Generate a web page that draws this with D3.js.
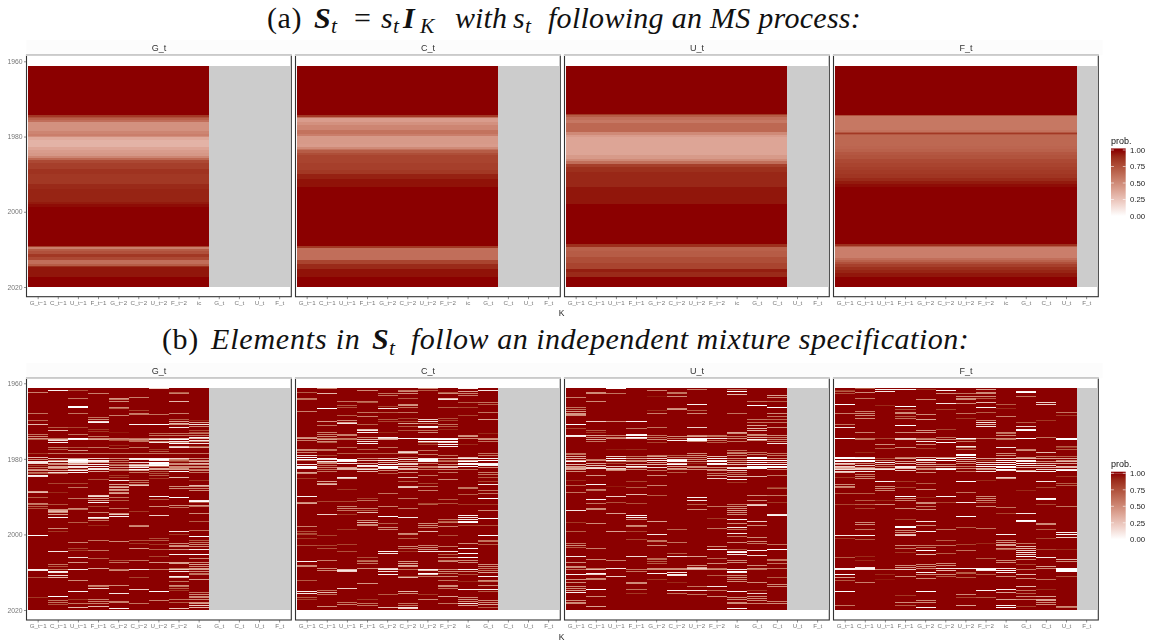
<!DOCTYPE html>
<html><head><meta charset="utf-8">
<script src="https://cdnjs.cloudflare.com/ajax/libs/d3/7.8.5/d3.min.js"></script>
<style>html,body{margin:0;padding:0;background:#fff}svg{display:block}text{font-family:"Liberation Sans",Arial,sans-serif}</style>
</head><body><svg id="c" width="1153" height="644"></svg>
<script>
const xLabels=["G_t−1","C_t−1","U_t−1","F_t−1","G_t−2","C_t−2","U_t−2","F_t−2","ic","G_t","C_t","U_t","F_t"];
const panelNames=["G_t","C_t","U_t","F_t"];
const predictorCounts=[9,10,11,12];
const yearTicks=[1960,1980,2000,2020];
const legendTicks=[1,.75,.5,.25,0];
// (a) posterior probability by period: [from year, prob] steps
const msG=[[1961.25,1],[1974.3,.85],[1974.7,.75],[1975.2,.68],[1975.7,.62],[1976.25,.47],[1977.9,.47],[1978.5,.52],[1979.2,.55],[1979.8,.48],[1980.25,.36],[1981,.32],[1982.2,.32],[1982.75,.38],[1983.5,.42],[1984.4,.44],[1985.3,.52],[1985.6,.65],[1986.3,.78],[1987,.82],[1988.5,.87],[1990,.85],[1992.5,.9],[1994,.92],[1996,.92],[1997.5,.95],[1997.9,.98],[1998.75,1],[2009,.82],[2009.4,.55],[2009.8,.7],[2010.5,.75],[2011.2,.85],[2012,.78],[2012.7,.62],[2013.8,.7],[2014.3,.88],[2014.75,.96],[2017.4,1]];
const msC=[[1961.25,1],[1974.3,.85],[1974.7,.6],[1975.2,.42],[1976.1,.47],[1977,.52],[1978.3,.6],[1979.2,.55],[1979.9,.43],[1982,.42],[1982.8,.5],[1983.3,.6],[1983.65,.7],[1984.3,.76],[1985,.8],[1987,.82],[1989,.85],[1989.9,.93],[1991.2,.97],[1993.4,1],[2009,.85],[2009.6,.62],[2012.5,.62],[2012.8,.8],[2013.9,.9],[2015.2,.97],[2017.4,1]];
const msU=[[1961.25,1],[1973.9,.85],[1974.3,.7],[1974.8,.62],[1975.65,.58],[1976.5,.65],[1978.3,.65],[1978.8,.5],[1979.5,.42],[1980.1,.38],[1984,.38],[1985,.43],[1986,.5],[1986.6,.62],[1987.2,.82],[1988,.88],[1989.4,.91],[1993.4,.96],[1997.9,1],[2008.7,.88],[2009.4,.68],[2010.5,.7],[2012.1,.76],[2013.5,.8],[2015.2,.94],[2016.1,.9],[2017.4,1]];
const msF=[[1961.25,1],[1974.3,.75],[1974.6,.58],[1978.3,.6],[1978.8,.72],[1979,.85],[1979.3,.72],[1979.6,.65],[1982.5,.66],[1983.2,.68],[1984,.72],[1985,.74],[1986,.78],[1987,.8],[1988,.82],[1989,.84],[1990,.86],[1991,.9],[1991.7,.95],[1992.5,.98],[1993.4,1],[2008.7,.88],[2009,.7],[2009.4,.55],[2011.8,.55],[2012.2,.62],[2012.8,.68],[2013.4,.75],[2014,.82],[2014.6,.88],[2015.4,.92],[2016.2,.96],[2017.4,1]];
const msProfiles=[msG,msC,msU,msF];
// (b) stripes per column: flat pairs of years after 1960, prob (all other periods are ~1)
const imG=[
[2.4,.55,7.9,.6,9.8,.65,10.8,.3,13.6,.6,14,.5,14.5,.45,15,.7,18.5,.85,19.7,.3,20.1,.5,20.6,.1,20.9,.1,21.3,.15,21.8,.8,22.3,.6,22.7,.5,23,.45,23.5,.6,23.9,.7,24.5,.05,24.6,.1,28.7,.4,29,.3,30.2,.7,31.8,.55,32.1,.6,32.5,.7,33.1,.75,40.4,0,49.2,.05,49.5,.1,51.4,.75,56.6,.85],
[1.9,.05,11.6,.7,12.4,.3,14.5,.6,14.9,.3,15.2,.15,15.6,.05,17.1,.6,17.5,.7,18.7,.6,19.8,.3,20.3,.5,20.7,.05,21.2,.45,21.5,.5,21.9,.4,22.2,.35,22.6,.5,23.1,.4,23.5,.15,23.8,.6,26.5,.8,28.9,.9,32.2,.75,33.3,.5,33.6,.4,33.9,.3,34.3,.5,34.7,.4,35.5,.05,38.5,.5,39.3,.85,44.5,.1,48,.6,48.4,.75,49.3,.6,49.7,.05,50.1,.1,50.8,.15,51.5,.3,56.3,0,57.4,.6,58,.6,58.5,.75],
[1.9,.75,4,.6,6.2,0,6.3,0,8,.6,11.6,.8,13.6,.6,14.6,0,14.8,.05,17.1,.75,17.7,.4,17.9,.45,18.7,.6,19.8,.4,20.1,.05,20.4,0,20.6,.05,21,.1,21.3,.4,21.6,.2,22,.1,22.4,.1,22.7,.5,23.1,.05,23.5,.05,26.5,.8,27.6,.6,30.4,.6,33,.5,33.3,.6,36.9,.7,42,.55,43.8,.8,44.3,.85,46,.15,47.5,.45,49.4,.1,52.1,.5,55,.05,57.2,.85,58.2,.6,59.3,.3],
[2.8,.55,9,.6,9.5,.5,10,.15,10.3,.05,12.3,.85,12.7,.85,14.1,.6,14.5,.5,15,.4,17.1,.6,18.7,.6,19.8,.2,20.3,.05,20.6,.1,21,.4,21.5,.05,22.1,.05,22.6,.1,22.9,.1,23.3,.4,25.4,.75,29.6,.25,30,.15,30.4,.4,30.9,.4,31.6,.05,32.6,.8,34.2,.55,35.4,.05,35.9,.3,36.3,.6,37.7,.9,41.6,.6,44.2,.6,46.3,.7,49.1,.4,53.4,.5,53.9,.6,54.2,.2,57.3,.55,57.8,.55,58.2,.55,59,.3],
[3.9,.45,4.4,.6,4.8,.5,6.3,.5,6.7,.7,8.4,.55,12.9,.95,14.5,.5,14.8,.55,15.2,.7,16.4,.9,17.3,.75,18.7,.6,19.8,.5,20.4,.6,21,.6,21.4,.7,21.8,.5,22.2,.45,22.7,.5,23.1,.6,24.3,.85,24.8,.8,25.7,.1,26.8,.4,27.3,.5,27.6,.35,28.1,.4,28.4,.5,28.9,.5,29.2,.4,30.1,.6,31,.7,33,.6,34.4,.5,34.7,.2,35.2,.05,41.8,.5,46.8,.75,47.3,.6,49.2,.6,49.5,.5,53.4,.5,55.6,.1,57.7,.55,58,.55,59.6,.05],
[3.8,.55,7.1,.8,7.9,.55,8.2,.6,10.9,.05,14.5,.6,14.8,.45,15.2,.6,15.5,.6,17.1,.6,18.7,.6,19.8,.05,20.1,.1,20.9,.15,21.4,.4,21.7,.1,22.1,.45,22.4,.05,22.8,.05,23.1,.4,23.5,.6,25.8,.6,26.2,.6,26.7,.5,27,.25,33.8,.85,37.7,.55,38,.5,41.5,.75,42.5,.85,43.8,.45,46.8,.6,49.2,.05,49.4,.1,51.3,.8,54.5,.2,58.3,.6],
[1.5,.2,8.3,.6,10.8,0,13.2,.65,13.8,.6,14.5,.4,14.9,.15,15.3,.5,15.6,.1,17.6,.85,18,.7,18.7,.6,19.8,.05,20.1,0,20.5,.1,20.9,0,21.2,0,21.4,.05,21.8,0,22.1,.6,22.6,.35,22.9,.35,23.3,.7,23.8,.75,24.3,.7,25.1,.85,29.9,.05,30.7,.7,32.6,.5,35,.2,41,.75,41.5,.7,42.7,.85,44,.7,45.9,.8,47.5,.45,49.2,.6,55,0,57.5,.55],
[2.4,.7,2.8,.55,4.8,.3,7.9,.55,9.7,.7,10.2,.4,10.6,.3,11,.5,11.6,.1,13.2,.6,13.7,.6,14.5,.3,14.9,0,15.3,.1,15.7,.55,16,0,16.6,.3,16.9,.1,18.5,.6,19.8,.2,20.1,.5,20.5,.6,20.8,.8,21.2,.5,21.5,.5,21.9,.5,22.3,.5,22.6,.5,22.9,.4,23.3,0,24.8,.3,27.3,.5,27.8,.5,30.3,0,32.4,.5,32.8,.6,39.3,.1,39.9,.85,42.3,.5,42.8,.5,43.3,.45,43.9,.45,45.4,.05,47.5,.4,47.8,.4,49,.6,49.3,.2,49.7,.1,51.2,.05,51.5,.3,52.5,.6,53.4,.5,53.9,.6,54.3,.7,54.7,.85,57.3,.6,57.9,.7,59.5,.3,59.7,.25],
[9.8,.9,10.4,.4,10.9,.1,11.5,.5,12.5,.75,12.9,.75,13.4,.6,13.9,.6,14.4,.05,14.7,.3,15.1,.1,15.4,.5,15.9,.1,16.6,.7,17.1,.4,18.7,.6,19.8,.5,20.3,.5,20.7,.4,21.2,.3,21.4,.5,21.9,.5,22.2,.5,22.7,.6,23.1,.5,23.6,.6,25.6,.85,27,.3,27.3,.5,27.9,.55,28.4,.5,31,.05,31.2,0,31.6,.7,32.3,.45,32.7,.6,34.5,.5,36.6,.7,39,.6,40.5,0,41.5,.7,42.2,.6,42.7,.5,43.2,.5,44,.1,45.2,0,46.4,.5,47.5,.5,48,.4,48.5,.5,48.9,.4,49.4,.4,49.9,.5,50.3,.6,50.6,.6,51.9,.4,55.3,.6,55.8,.5,56.3,.5,56.8,.5,57.3,.5,57.9,.5,58.4,.4,58.9,.2,59.4,.3]];
const imC=[
[2.5,.7,4,.6,4.4,.6,7.5,.55,14.4,.5,14.7,.45,15.1,.55,17.5,.5,17.8,.55,18.2,.55,19.2,.15,19.6,0,20.1,0,20.5,.6,21.5,.1,21.9,0,22.2,0,22.6,.05,23.5,.4,23.8,.5,25.1,.85,29.9,.05,31.6,.5,31.9,.4,37.9,.55,39.3,.75,39.7,.75,40.1,.8,41,.85,42.9,.75,47.1,.05,48.2,.5,48.5,.5,52.1,.7,55,.05,55.6,.1,56.8,.7,57.1,.8],
[1.4,.5,2.6,.3,6.6,0,10.1,.45,11.1,.6,13.1,.55,13.5,.55,14,.5,14.5,.6,14.8,.4,15.3,.5,15.6,.7,17.5,.6,17.9,.6,19.1,.8,19.8,.05,20.1,.1,20.6,.1,21,.5,21.3,.5,21.7,.6,22.2,.55,22.8,.6,23.4,.6,26,.4,26.5,.5,26.8,.3,31.3,.8,34.6,.2,40.4,.8,42.8,.8,43.7,.75,47,.55,49.1,.5,49.6,.5,54.9,.6,55.4,.3,55.9,.6,59.1,.5],
[4.8,.6,6,.7,6.5,.75,8.5,.7,9.9,.5,10.3,.4,10.7,.1,13.5,.55,13.9,.55,14.5,.6,14.9,.6,17.1,.65,18.5,.7,20.1,0,20.5,0,20.8,.05,21.2,.1,22.2,.4,22.6,.3,22.9,.35,24.8,.1,25.2,.3,28.2,.85,31.4,.8,32.6,.55,33.1,.5,33.6,.6,34.8,.85,38.7,.85,42.7,.8,44.6,.75,49.2,.3,49.5,.1,49.7,.2,54.2,.2,58,.6,58.5,.55],
[1.8,.5,4.8,.6,5.1,.7,7.6,.6,8.8,.55,10.8,.7,12.2,.3,12.6,.1,13.1,.05,14.4,.5,15,.3,15.3,.15,16,.05,17.5,.7,18.5,.7,20,.5,20.5,.3,21.2,.4,21.7,.05,22.1,.1,22.5,.5,22.9,.1,23.3,.3,30.4,.8,30.9,.6,33.2,.55,33.6,.7,34.2,.3,36.3,.5,36.9,.3,37.3,.5,37.7,.5,46.1,.75,46.8,.7,47.1,.6,47.6,.6,49.1,.5,53,.45,57.2,.85,58.2,.6,58.7,.6],
[2.6,.6,3.1,.6,6.2,.8,6.8,.1,7.7,.7,9.7,.7,10.2,.8,13,.9,14.4,.05,14.7,.2,15,.4,17,.6,18.6,.7,19.9,.3,20.3,.05,20.9,.4,21.5,.05,21.9,0,22.2,0,22.6,.05,23.1,.5,23.8,.7,29.2,.6,32.7,.55,35.2,0,37.2,.7,38.1,.5,38.6,.5,44.5,.05,45,.1,49.1,.2,49.4,.1,49.7,.15,50.5,.05,55.8,.7,59.3,.3],
[1.8,.6,2.2,.5,2.6,.5,4,.7,5.6,.5,5.9,.45,6.4,.6,7.6,.6,9.4,.8,10.1,.8,10.6,.4,11.5,.7,12.5,.75,14.6,0,14.7,.05,18.1,.3,18.4,.15,18.7,.6,19.7,.6,20.2,.1,20.6,.5,21.2,.2,21.6,.2,22,.3,22.5,.3,22.9,.3,23.5,.5,25,.3,26,.7,27.2,.3,27.5,.25,30.4,.6,33.2,.6,35.5,.1,39.7,.5,40.1,.55,41.1,.7,43.2,.5,43.7,.6,44.4,.85,47.2,.45,47.6,.4,48.1,.35,48.5,.45,49.2,.6,51,.75,51.5,.3,55,.3,55.5,.5,58.2,.6,58.7,.6,59.3,.1,59.7,.2],
[1.5,.5,2,.7,9.7,.2,10.1,.1,10.6,.6,11.4,.05,11.7,.1,12.5,.6,13,.5,14.5,.05,14.7,0,15,0,15.3,.05,15.7,.6,16.2,.8,17.9,.6,18.9,.6,19.8,.1,20.1,0,20.3,0,20.6,.05,21.2,.6,21.9,.6,22.3,.6,22.9,.6,24.3,.6,26.6,.8,27.2,.6,28.4,.55,31.7,.8,32.2,.7,37.2,.5,37.7,.5,38.1,.55,39.3,.3,42.9,.55,43.4,.5,44.1,.45,44.5,.1,49.2,.05,49.5,.3,50.4,0,50.6,.2,51.2,.6,55.8,.85,57.2,.5],
[2.4,.7,2.7,.5,4,.3,4.3,.1,6.4,.7,9.4,.75,9.9,.8,10.8,.6,11.4,.7,12.2,.9,14.6,.05,14.9,0,15.3,0,15.7,.2,16.2,0,16.7,.05,19,.6,19.9,.4,20.3,.7,20.7,.6,21.4,.5,21.9,.3,22.3,.3,22.9,.5,23.5,.6,25.4,.5,30.7,.7,31.8,.75,36,.6,36.5,.7,36.9,.6,37.9,.55,40.2,.75,43.2,.6,44.6,.1,45.2,.7,46,.5,46.8,.6,47.2,.5,49.4,.5,49.8,.5,50.3,.6,51.2,.5,52.1,.6,53.4,.5,53.8,.5,54.2,.6,56.3,.4,58.2,.6],
[1.5,.05,2.2,.4,2.6,.55,3.1,.55,5,.7,6.3,.8,8.4,.8,13.7,.5,14,.45,14.5,.5,16.3,.9,19.6,.3,19.9,.1,20.3,.3,20.8,0,21.2,0,21.5,0,21.9,0,22.1,0,22.9,.6,27.5,.6,27.9,.6,29.4,.7,32,.85,34.9,.05,35.6,.1,36.1,.1,36.5,.05,36.9,0,37.6,.8,42.3,.5,43.8,.05,45,0,46.1,0,46.9,.5,47.5,.5,49.2,.05,49.7,.5,50.7,.75,52.5,.9,54.5,.05,56.7,.5,57.1,.45,57.8,.5,58.4,.1,58.7,.4],
[1.9,.1,5,.6,5.5,.7,7.6,.6,9.7,.4,13.2,.9,14.5,.5,14.8,.45,15.3,.6,18.7,.6,19.2,.6,19.9,.05,20.4,0,21.1,.05,21.4,0,21.7,.05,22.2,.5,23.6,.55,24.2,.6,25,.7,26,.8,26.7,.1,28.4,.6,29.1,.6,30.4,0,32,.85,33.6,.5,35.8,0,37.6,.75,40.2,0,41.5,.6,41.9,.6,42.6,.7,48,.5,48.5,.5,49.1,.6,49.6,.6,50.1,.4,51.2,.05,52.1,.5,52.5,.6,53.4,.5,54.5,.05,55,.7,57.5,.5,58,.5,58.6,.4,59.3,.7]];
const imU=[
[3.8,.55,6.4,.6,6.9,.6,7.4,.45,7.9,.45,8.3,.45,8.6,.5,10.8,0,11.9,.8,13.9,.05,14.2,.1,18.5,.6,18.9,.6,19.4,.35,19.8,.35,20.3,.35,20.8,0,21.4,.3,21.9,.4,22.2,.45,22.6,.35,22.9,.4,23.3,.5,25.8,.9,27.1,.65,28.9,.6,33.6,.1,36.9,.85,39.3,.7,42.3,.6,42.8,.5,43.4,.7,45.8,.1,47.3,.5,48.4,.5,48.8,.5,49.2,.6,50.5,.05,51.9,.45,52.8,.5,53.8,.5,54.2,.5,54.8,.4,55.3,.05,57.5,.5,57.9,.5,58.3,.5],
[2.5,.5,2.8,.5,4.8,.5,10.1,.2,12.5,.7,13,.85,13.9,.4,14.4,.5,14.9,.35,15.3,.6,20.1,.6,20.5,.5,21.2,.4,21.8,.3,22.2,.2,22.6,.15,24.4,.45,26.7,.05,28.1,.55,28.4,.6,30.7,.05,31.9,.6,33.1,.5,33.5,.5,37,.5,43.8,.55,46.5,.5,48.9,.6,49.4,.3,50.4,.05,50.7,.2,51.6,.5,52,.5,54.5,0,56.5,.5,59,.4],
[1.3,0,2.6,.6,10,.5,13.9,.55,14.4,.55,14.7,.5,17.5,.95,19.4,.2,19.9,0,20.3,0,20.8,.6,21.2,.8,22.1,.3,22.5,.2,22.9,.3,23.2,.5,27.2,.95,29.9,.2,31.5,.75,34.5,.4,39.2,.4,46.8,.55,48.9,.1,51,.2],
[10,0,10.2,.05,12,.6,13.5,.05,13.9,0,14.4,0,14.7,.2,17.6,.9,19.4,.6,19.8,.4,20.3,.5,20.8,.5,21.4,.3,21.9,.05,22.4,.3,22.9,.5,26,.8,27.7,.7,29.4,.3,31.8,.75,34.9,.05,35.5,.05,36.1,.5,37.5,.5,37.9,.55,39.3,.8,41.3,.8,45.8,.15,49.2,.6,49.7,.6,52.8,.5,53.1,.5,54.6,.6,55.6,.85],
[1.8,.55,3.5,.95,7.1,.9,8,.55,11.6,.6,13.9,.6,14.4,.6,14.9,.5,15.6,.8,19,.6,19.4,.4,19.9,.2,20.3,.05,21,.4,21.4,.3,22.4,.15,23,.6,24.5,.5,27.1,.55,29.8,.7,36.7,.4,40,.1,41.5,.6,41.9,.6,43,.5,46.3,.65,46.7,.65,47.2,.7,47.8,.7,48.9,.5,49.4,.5,50.3,.05,52,.85],
[2.4,.6,2.8,.6,3.4,.5,6.6,.5,7,.45,14,.5,14.5,.6,15.1,.05,19,.7,19.7,.5,20.1,.1,20.5,0,20.8,.05,21.2,.2,21.6,0,22.1,.4,22.6,.4,22.9,.5,23.6,.7,38.7,.65,42,.6,45,.7,45.8,.1,48.9,.5,49.4,.5,50,.1,50.5,.05,50.8,.1,52.6,.9,54.7,.05,55.7,.6],
[1.6,.55,5.7,.05,7.3,.7,7.9,.5,11.6,.2,13.9,.5,14.1,.4,14.5,0,14.8,0,15.2,0,15.5,.5,18.7,.5,19.1,.5,19.7,.5,20.1,.5,20.7,.5,21.3,.9,21.9,.5,22.2,.5,22.8,.5,30.2,.05,30.9,.1,32,.7,33.4,.5,45.8,.4,48.3,.5,48.7,.4,49.1,.2,49.4,.4,53.7,.6,54.8,.1,56,.6],
[13.9,.6,14.2,.6,14.6,.1,15.2,.6,15.7,.7,19.4,.3,19.8,.05,20.3,.05,20.8,0,21.2,0,21.6,.05,22.3,.5,22.8,.5,23.2,.5,23.8,.6,24.5,.5,25.3,.2,32.5,.6,35.7,.85,38.5,.6,43.2,.5,44.1,.1,46.3,.65,47.7,.5,48.9,.6,49.4,.5,50.8,.7,53.9,.1,54.8,.6,56.5,.5],
[1.6,.6,2.2,0,3,.3,8.1,.6,13.1,.4,13.4,.5,14,.6,14.6,.5,15.3,.6,17.8,.6,18.2,.6,18.7,.5,19.2,.55,19.8,.5,20.5,.5,21,.4,21.6,.3,22.2,.15,22.6,.1,23,.2,23.5,.6,24.1,.6,24.7,.3,25.4,.05,26.2,.85,32,.6,32.6,.5,33.1,.5,33.7,.4,34.2,.5,34.8,.5,36,.05,37.2,.5,38.1,.1,38.8,.6,39.7,.1,40.6,.6,42.2,.5,43.9,.7,44.4,.1,44.9,0,45.2,.1,46.9,.5,47.5,.5,49.4,.1,49.7,0,50,.05,50.9,.5,51.4,.5,52,.5,52.5,.5,55,.05,56.8,.5,57.3,.5,57.9,.5,58.4,.5,59.5,.05],
[4.8,.6,6,0,9.7,.6,10.4,.6,11.2,.4,11.9,.3,12.5,.3,13.5,.5,13.9,.5,14.4,.35,14.8,.05,15.2,.5,18.3,.6,18.8,.6,19.6,0,19.9,0,20.5,0,21,0,21.4,0,21.9,0,22.2,0,22.6,.05,24.7,.3,29.7,.5,30.9,.5,32,.3,32.3,.2,36.5,.2,37.7,.5,40.7,.5,41.9,.5,42.3,.6,44.3,.05,45.7,.15,48.3,.5,48.9,.5,49.4,.6,52.8,.5,54.7,.85,55.7,.2,56.4,.5,57,.5,57.6,.5,58.2,.55],
[3.3,.4,3.7,.5,4.8,.7,6.4,0,8.1,.5,8.8,.6,9.7,.65,10.4,.6,11.6,.5,13.9,.5,14.3,.55,14.8,.5,15.3,.6,15.8,.1,18.5,.6,19.2,.6,19.8,.5,20.5,0,21,.3,21.4,0,21.9,0,22.2,0,22.9,.5,24.5,.6,27.5,.85,27.9,.7,29.6,.6,31.5,.85,34.8,.1,35.1,.05,42.7,.6,44.1,0,46.5,.6,47,.6,47.6,.6,48.9,.6,51.3,.7,53.3,.5,53.8,.5,57.8,.55,58.4,.5]];
const imF=[
[1.8,.85,2.3,.7,2.8,.75,5.7,0,8.1,.55,10.8,.6,11.6,.1,14.5,0,14.7,0,19.6,0,19.9,0,20.3,.05,20.6,0,21.2,.2,21.5,.4,21.9,.2,22.2,.3,22.6,.4,22.9,.15,23.3,.15,23.6,.3,24.9,.85,26.7,.5,27.2,.5,27.5,.55,29.1,.7,32.2,.8,40.2,.1,41,.85,46.2,.7,49.1,.05,49.4,.05,50.5,0,51.5,.4,52.2,.7,55.1,0,58.8,.6],
[1.4,.7,2.5,.5,3.9,.6,7.5,.55,7.9,.5,8.4,.5,9.4,.5,13.1,.55,14.5,.6,14.9,.6,18.3,.9,19.7,.1,20,0,20.4,0,20.8,0,21.3,.5,21.8,.2,22.2,.5,22.6,.2,22.9,.2,23.3,.1,24.2,.6,24.7,.55,25.2,.5,29.1,.7,31,.7,32,.7,33.2,.8,36.9,.5,37.3,.5,38.7,.6,40.2,.05,41.3,.7,45.9,.9,47,.9,48.7,.1,49.1,.05,49.4,.1,52.8,.55],
[1.6,.05,2.2,.1,5.8,.9,14.5,.8,16.2,.5,17.3,.7,19.8,.8,20.5,.5,21,.05,21.4,.4,21.9,.6,22.5,.3,22.9,.1,26,.05,27.3,.5,27.8,.5,28.4,.5,30.9,.9,32.2,.5,49.2,.5,50.5,.9,51.9,.95],
[1.6,.05,6.1,0,6.9,.75,7.6,.5,8,.5,8.8,.7,9.3,.6,11.1,0,13.1,.5,14.5,.2,14.8,.3,16.9,.5,19.6,.6,20,.4,20.6,.4,21.2,.3,21.9,.1,22.2,.1,22.6,.3,23.2,.2,26,.85,27.6,.8,30,0,30.5,.5,31,.5,33,.5,36.1,.8,37.8,0,38.1,0,38.9,.5,39.5,.5,40.1,.3,40.4,.2,43,.5,43.7,.6,44.8,.85,48.3,.5,48.7,.45,49.2,.2,51,.5,56.1,.85,58,.5,58.8,.7],
[1.6,.85,4.4,.5,8.2,.5,9.7,.4,12.5,.45,12.9,.45,14.5,.6,14.9,.5,15.4,.1,16.2,.5,17.2,.85,19.7,.3,20.1,.05,20.5,.1,21,.3,21.6,.3,22.1,.5,22.5,.5,22.9,.45,23.5,.5,26.6,.7,28.2,.5,30.2,.9,31.5,.5,31.9,.5,32.5,.6,33.5,.5,36.5,.1,37.6,.5,39.1,.05,43,.6,43.5,.6,44.2,0,45.3,.3,48,.5,48.5,.5,49.1,.5,50,.05,50.6,.5,51.6,.5,55.1,0,57.5,.5,57.9,.5,59.3,.05],
[1.9,.05,2.8,.5,5.3,.1,6.9,.8,12.3,.8,14.4,.6,14.8,.5,15.6,0,19.6,.55,19.9,.05,20.5,0,21.5,.5,22,.4,22.5,.1,22.9,0,29.9,.05,31.6,.8,38.8,.6,41.5,.7,43,.6,45.1,.7,47.6,.5,48.1,.5,49.1,.1,49.5,.3,50.5,.5,51.2,.7],
[2.6,.6,3.5,.5,3.9,.5,4.4,.5,5.3,.5,8,.6,9.3,.85,14.5,0,14.8,.5,15.3,.6,16.6,.1,17,.5,17.6,.7,18.9,0,19.2,0,19.6,0,20.1,.3,20.6,.4,21.3,.5,22.1,.6,22.6,.5,23.4,.6,26.1,0,29,.6,31.5,.1,35.3,0,38.2,.7,42.7,.8,44.3,.6,49.1,.05,50,.7,50.3,.7,51.4,.7,56,.5,56.8,.8,58.9,.4],
[1.6,.4,2.4,.5,2.8,.5,3.4,.5,4,.7,5,.3,6.5,.05,7.6,.7,9.9,.5,10.4,.1,10.8,.3,11.3,.1,14.5,.6,19.9,.4,20.5,.8,21,.2,21.5,.1,22.1,.05,22.5,.3,22.9,.4,23.4,.1,25.7,.9,30,.5,30.4,.5,31,.5,31.5,.7,32.5,.5,38.3,.6,42.4,.9,46.3,.7,49,.05,49.3,0,49.6,.1,50.6,.7,54.7,.05,56.7,.7],
[5.7,.7,6.6,.9,8.9,.55,12.9,.55,13.4,.6,13.9,.5,14.5,.5,15,.6,16.9,.1,18.7,.5,19.2,.5,19.8,.2,20.5,.05,20.9,.05,21.4,0,21.9,0,22.3,0,22.7,0,23.1,.1,24.9,.2,25.3,.4,32.9,.6,34.4,.8,39.9,.05,41.7,.5,42.2,.45,42.6,.4,43,.4,43.6,.5,44.1,.65,46.8,.5,47.5,.5,49.1,.1,49.5,0,50.1,.1,51,.5,54.5,.05,55.4,.4,57.3,.4,58.7,.05,59.3,0],
[2.2,.05,2.5,0,3.5,.6,10.3,.7,11.4,.2,12.2,.05,12.4,0,14.6,0,17.5,.55,17.9,.5,19.6,.5,20,.3,20.5,.05,20.8,.05,21.3,0,21.8,.1,22.3,.3,23,.4,23.4,.05,28.4,.9,34.4,.1,36.3,0,36.6,.05,42.4,.6,43.2,.3,43.7,.3,44.2,.2,44.7,.1,45.3,.2,45.8,0,46.6,.5,48,.8,49.4,.6,50.5,.3,51.6,.5,53.8,.3,54.7,.6,55.5,.7,56.3,.5,57.3,.5,59,.8],
[5.2,.2,5.7,.2,9.9,.85,14.3,.6,18.3,.3,19.4,.6,19.9,.4,20.6,.5,21.1,.3,21.7,.2,22.2,.3,22.7,.2,23.4,.05,26.1,.1,27.6,.8,30.4,0,30.7,.05,32,.8,37.1,.5,37.4,.5,38.6,.7,41.2,.8,44.1,.8,46.1,.1,48.5,.4,49.1,.5,52,.6,54.5,.9,56.5,.4,57.1,.4,57.4,.4,58,.5,58.5,.5],
[7.7,.6,8.6,.85,14.6,0,14.8,0,16.6,.7,17,.85,17.6,.7,19.4,.7,19.8,.4,20.3,.5,20.8,.3,21.3,.4,21.9,.3,22.4,.3,22.9,.1,23.2,0,24.7,.85,26.5,.7,27,.7,32.5,.6,39.4,.05,40,0,40.8,.2,44.1,.9,46.6,.3,47.2,.5,48.9,0,49.2,0,49.5,0,49.7,0,51,.75,59,.5,59.2,.6]];
const imPanels=[imG,imC,imU,imF];

const svg=d3.select("#c");
const lowC="#ffffff",highC="#8b0000",naC="#cccccc";
const fill=d3.scaleLinear().domain([0,1]).range([lowC,highC]).interpolate(d3.interpolateLab);
const panelLeft=d3.scaleLinear().domain([0,1]).range([26.5,295.5]);
const panelW=264.8,heatW=261.6;
const defs=svg.append("defs");
defs.append("filter").attr("id","soft").attr("x",0).attr("y",0).attr("width",1).attr("height",1).attr("color-interpolation-filters","sRGB").append("feGaussianBlur").attr("stdDeviation","0 0.3");

function title(y,size,parts){
  const t=svg.append("text").attr("y",y).style("font-size",size+"px").style("font-family",'"Liberation Serif",serif').attr("fill","#111").style("white-space","pre");
  parts.forEach(p=>{
    const s=t.append("tspan").text(p.t).attr("x",p.x).attr("y",p.sub?y+5.5:y).style("letter-spacing",(p.ls||0)+"px");
    if(p.i)s.style("font-style","italic");
    if(p.b)s.style("font-weight","bold");
    if(p.sub)s.style("font-size",size*.72+"px");
  });
}
title(27.5,30,[{t:"(a)",x:267,ls:.6},{t:"S",i:1,b:1,x:314},{t:"t",i:1,sub:1,x:331},{t:"=",x:354},{t:"s",i:1,x:381},{t:"t",i:1,sub:1,x:393},{t:"I",i:1,b:1,x:403},{t:"K",i:1,sub:1,x:420},{t:"with",i:1,x:455,ls:.1},{t:"s",i:1,x:513},{t:"t",i:1,sub:1,x:525},{t:"following an MS process:",i:1,x:548,ls:.28}]);
title(349,30,[{t:"(b)",x:162,ls:.6},{t:"Elements in",i:1,x:211,ls:.8},{t:"S",i:1,b:1,x:372},{t:"t",i:1,sub:1,x:389},{t:"follow an independent mixture specification:",i:1,x:411,ls:.52}]);

function frame(stripTop,top,bottom,heatTop,heatBottom,drawCells){
  const y=d3.scaleLinear().domain([1961.25,2020]).range([heatTop,heatBottom]);
  panelNames.forEach((name,pi)=>{
    const L=panelLeft(pi),x=d3.scaleBand().domain(xLabels).range([L+1.6,L+1.6+heatW]).padding(0);
    const g=svg.append("g");
    g.append("rect").attr("x",L).attr("y",stripTop).attr("width",panelW+4.2).attr("height",top-stripTop).attr("fill","#fcfcfc");
    g.append("text").attr("x",L+panelW/2).attr("y",stripTop+11.2).attr("text-anchor","middle").style("font-size","9px").attr("fill","#333").style("opacity",.999).text(name);
    const heat=g.append("g");
    const n=predictorCounts[pi];
    const y0=y(1961.25),y1=y(2020);
    heat.selectAll("rect.na").data(xLabels.slice(n)).join("rect").attr("x",d=>x(d)).attr("y",y0).attr("width",x.bandwidth()).attr("height",y1-y0).attr("fill",naC).attr("shape-rendering","crispEdges");
    drawCells(heat,pi,x,y,xLabels.slice(0,n));
    g.append("rect").attr("x",L).attr("y",top).attr("width",panelW).attr("height",bottom-top).attr("fill","none").attr("stroke","#333").attr("stroke-width",1.1);
    g.append("line").attr("x1",L-.5).attr("x2",L+panelW+.5).attr("y1",top).attr("y2",top).attr("stroke","#d0d0d0").attr("stroke-width",1.2);
    const ax=g.append("g").attr("transform",`translate(0,${bottom})`).style("opacity",.999).call(d3.axisBottom(x).tickSize(2.5).tickPadding(1.5));
    ax.select(".domain").remove();
    ax.selectAll("line").attr("stroke","#444").attr("stroke-width",.6);
    ax.selectAll("text").style("font-size","6.2px").style("font-family",'"Liberation Sans"').attr("fill","#777");
    if(pi===0){
      const ay=g.append("g").attr("transform",`translate(${L},0)`).style("opacity",.999).call(d3.axisLeft(y).tickValues(yearTicks).tickFormat(d3.format("d")).tickSize(2.5).tickPadding(1.5));
      ay.select(".domain").remove();
      ay.selectAll("line").attr("stroke","#444").attr("stroke-width",.6);
      ay.selectAll("text").style("font-size","6.8px").style("font-family",'"Liberation Sans"').attr("fill","#777");
    }
  });
  svg.append("text").attr("x",561.5).attr("y",bottom+19.5).attr("text-anchor","middle").style("font-size","8.5px").style("opacity",.999).attr("fill","#222").text("K");
  const ly=d3.scaleLinear().domain([0,1]).range([bottom-80.7,bottom-146.7]);
  const id="lg"+Math.round(top);
  const grad=defs.append("linearGradient").attr("id",id).attr("x1",0).attr("x2",0).attr("y1",1).attr("y2",0);
  d3.range(0,1.01,.1).forEach(v=>grad.append("stop").attr("offset",v).attr("stop-color",fill(v)));
  const lx=1111,lw=14.7;
  svg.append("rect").attr("x",lx).attr("y",ly(1)-1.6).attr("width",lw).attr("height",1.6).attr("fill",highC);
  svg.append("rect").attr("x",lx).attr("y",ly(1)).attr("width",lw).attr("height",ly(0)-ly(1)).attr("fill",`url(#${id})`);
  const lt=svg.append("g").style("opacity",.999);
  lt.append("text").attr("x",lx).attr("y",ly(1)-6.2).style("font-size","9px").attr("fill","#111").text("prob.");
  legendTicks.forEach(v=>{
    lt.append("text").attr("x",lx+19).attr("y",ly(v)+2.8).style("font-size","7.8px").attr("fill","#222").text(d3.format(".2f")(v));
    if(v>0)[[lx,lx+2.9],[lx+lw-2.9,lx+lw]].forEach(s=>svg.append("line").attr("x1",s[0]).attr("x2",s[1]).attr("y1",ly(v)).attr("y2",ly(v)).attr("stroke","#fff").attr("stroke-width",.6));
  });
}

// (a) common regime probability
frame(40,55.3,296.7,66,287,(heat,pi,x,y,cols)=>{
  const steps=msProfiles[pi].map((s,i,a)=>({from:s[0],to:i+1<a.length?a[i+1][0]:2020,p:s[1]}));
  cols.forEach(c=>{
    heat.append("g").selectAll("rect").data(steps).join("rect")
      .attr("x",x(c)).attr("width",x.bandwidth()).attr("y",d=>y(d.from)).attr("height",d=>y(d.to)-y(d.from)+.3)
      .attr("fill",d=>fill(d.p)).attr("shape-rendering","crispEdges");
  });
});
// (b) independent mixture
frame(363,378.3,620,388,610,(heat,pi,x,y,cols)=>{
  const soft=heat.append("g").attr("filter","url(#soft)");
  soft.selectAll("rect.base").data(cols).join("rect").attr("class","base")
    .attr("x",d=>x(d)).attr("width",x.bandwidth()).attr("y",y(1961.25)).attr("height",y(2020)-y(1961.25))
    .attr("fill",fill(1)).attr("shape-rendering","crispEdges");
  cols.forEach((c,ci)=>{
    const flat=imPanels[pi][ci];
    const stripes=d3.range(0,flat.length,2).map(i=>({year:1960+flat[i],p:flat[i+1]}));
    soft.append("g").selectAll("rect").data(stripes).join("rect")
      .attr("x",x(c)).attr("width",x.bandwidth()).attr("y",d=>y(d.year-.125)).attr("height",1)
      .attr("fill",d=>fill(d.p)).attr("shape-rendering","crispEdges");
  });
});
</script></body></html>
